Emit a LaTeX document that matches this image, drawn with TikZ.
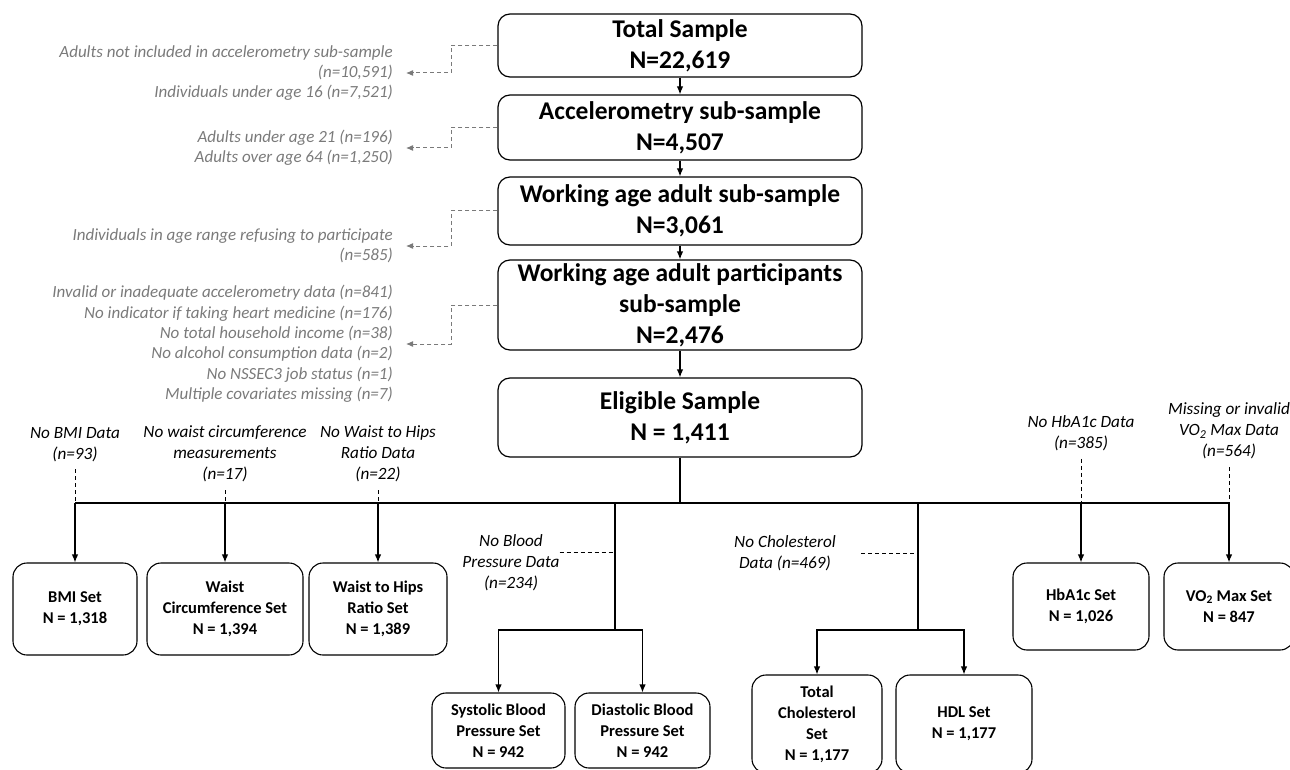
\documentclass[tikz,border=0pt]{standalone}
\usepackage{fontspec}
\setmainfont{Carlito}
\usepackage{xcolor}
\usepackage{tikz}
\usetikzlibrary{arrows, arrows.meta, calc}
\definecolor{notegray}{RGB}{122,122,122}

\begin{document}
\begin{tikzpicture}[
x=1pt, y=-1pt, >={Latex[length=8pt, width=6.5pt]},
stage box/.style = {draw, line width=1.2pt, rounded corners=12pt, align=center, inner sep=0pt, minimum width=364pt, font=\bfseries\fontsize{25.5}{31}\selectfont},
set box/.style = {draw, line width=1.1pt, rounded corners=14pt, align=center, inner sep=0pt, font=\bfseries\fontsize{16.5}{21}\selectfont},
excl label/.style = {anchor=east, align=right, inner sep=0pt, text=notegray, font=\itshape\fontsize{17}{20.4}\selectfont},
drop label/.style = {align=center, inner sep=0pt, font=\itshape\fontsize{17.2}{21}\selectfont},
excl line/.style = {-{Latex[length=7pt, width=6pt]}, notegray, line width=1pt, dash pattern=on 4pt off 3pt, shorten >=13pt},
drop line/.style = {line width=0.9pt, dash pattern=on 4pt off 3pt},
flow line/.style = {line width=1.2pt}
]

\useasboundingbox (0,0) rectangle (1290,770);

\node (total) at (680,45.5) [stage box, minimum height=63pt] {Total Sample\\N=22,619};
\node (accel) at (680,127.5) [stage box, minimum height=65pt] {Accelerometry sub-sample\\N=4,507};
\node (working) at (680,211) [stage box, minimum height=68pt] {Working age adult sub-sample\\N=3,061};
\node (partic) at (680,305) [stage box, minimum height=90pt] {Working age adult participants\\sub-sample\\N=2,476};
\node (elig) at (680,417.5) [stage box, minimum height=79pt] {Eligible Sample\\N = 1,411};

\node (excl1) at (393,73) [excl label] {Adults not included in accelerometry sub-sample\\(n=10,591)\\Individuals under age 16 (n=7,521)};
\node (excl2) at (393,148) [excl label] {Adults under age 21 (n=196)\\Adults over age 64 (n=1,250)};
\node (excl3) at (393,246) [excl label] {Individuals in age range refusing to participate\\(n=585)};
\node (excl4) at (393,344) [excl label] {Invalid or inadequate accelerometry data (n=841)\\No indicator if taking heart medicine (n=176)\\No total household income (n=38)\\No alcohol consumption data (n=2)\\No NSSEC3 job status (n=1)\\Multiple covariates missing (n=7)};

\node (bmi) at (75,609) [set box, minimum width=124pt, minimum height=92pt] {BMI Set\\N = 1,318};
\node (waist) at (225,609) [set box, minimum width=156pt, minimum height=92pt] {Waist\\Circumference Set\\N = 1,394};
\node (hips) at (378,609) [set box, minimum width=138pt, minimum height=92pt] {Waist to Hips\\Ratio Set\\N = 1,389};
\node (sys) at (498.5,730.5) [set box, minimum width=133pt, minimum height=75pt] {Systolic Blood\\Pressure Set\\N = 942};
\node (dia) at (642.5,730.5) [set box, minimum width=135pt, minimum height=75pt] {Diastolic Blood\\Pressure Set\\N = 942};
\node (tchol) at (817,724) [set box, minimum width=130pt, minimum height=98pt] {Total\\Cholesterol\\Set\\N = 1,177};
\node (hdl) at (964,724) [set box, minimum width=136pt, minimum height=98pt] {HDL Set\\N = 1,177};
\node (hba) at (1081,606.5) [set box, minimum width=136pt, minimum height=87pt] {HbA1c Set\\N = 1,026};
\node (vo2) at (1229,606.5) [set box, minimum width=130pt, minimum height=87pt] {VO\textsubscript{2} Max Set\\N = 847};

\node (bminote) at (75,445) [drop label] {No BMI Data\\(n=93)};
\node (waistnote) at (225,454) [drop label] {No waist circumference\\measurements\\(n=17)};
\node (hipsnote) at (378,454) [drop label] {No Waist to Hips\\Ratio Data\\(n=22)};
\node (bpnote) at (511,563) [drop label] {No Blood\\Pressure Data\\(n=234)};
\node (cholnote) at (785,553) [drop label] {No Cholesterol\\Data (n=469)};
\node (hbanote) at (1081,433) [drop label] {No HbA1c Data\\(n=385)};
\node (vo2note) at (1229,431) [drop label] {Missing or invalid\\VO\textsubscript{2} Max Data\\(n=564)};

\coordinate (split) at (680,503);
\coordinate (bpsplit) at (615,630);
\coordinate (cholsplit) at (918,630);
\coordinate (bpdash) at (615,552);

\draw[->, flow line] (total) -- (accel);
\draw[->, flow line] (accel) -- (working);
\draw[->, flow line] (working) -- (partic);
\draw[->, flow line] (partic) -- (elig);

\draw[excl line] (total.west) -- ++(-46,0) |- (excl1.east);
\draw[excl line] (accel.west) -- ++(-46,0) |- (excl2.east);
\draw[excl line] (working.west) -- ++(-46,0) |- (excl3.east);
\draw[excl line] (partic.west) -- ++(-46,0) |- (excl4.east);

\draw[flow line] (elig) -- (split);
\draw[flow line] (bmi.north |- split) -- (vo2.north |- split);
\draw[->, flow line] (bmi.north |- split) -- (bmi.north);
\draw[->, flow line] (waist.north |- split) -- (waist.north);
\draw[->, flow line] (hips.north |- split) -- (hips.north);
\draw[->, flow line] (hba.north |- split) -- (hba.north);
\draw[->, flow line] (vo2.north |- split) -- (vo2.north);

\draw[flow line] (bpsplit |- split) -- (bpsplit);
\draw[->, flow line] (bpsplit) -| (sys.north);
\draw[->, flow line] (bpsplit) -| (dia.north);
\draw[flow line] (cholsplit |- split) -- (cholsplit);
\draw[->, flow line] (cholsplit) -| (tchol.north);
\draw[->, flow line] (cholsplit) -| (hdl.north);

\draw[drop line, shorten <=7pt] (bminote) -- (bminote |- split);
\draw[drop line, shorten <=8pt] (waistnote) -- (waistnote |- split);
\draw[drop line, shorten <=8pt] (hipsnote) -- (hipsnote |- split);
\draw[drop line, shorten <=8pt] (hbanote) -- (hbanote |- split);
\draw[drop line, shorten <=8pt] (vo2note) -- (vo2note |- split);
\draw[drop line] (bpdash -| bpnote.east) -- (bpdash);
\draw[drop line, shorten <=25pt] (cholnote.east) -- (cholnote.east -| cholsplit);
\end{tikzpicture}
\end{document}
